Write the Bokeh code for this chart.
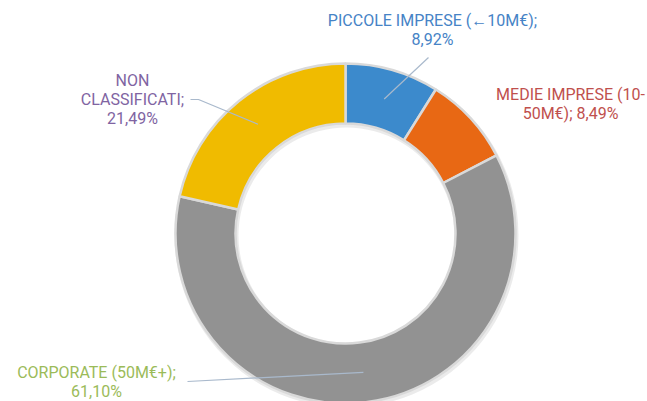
import math
from bokeh.plotting import figure
from bokeh.models import Range1d, ColumnDataSource
from bokeh.core.properties import value
from bokeh.embed import file_html
from bokeh.resources import INLINE

# ---- data ----
categories = ["PICCOLE IMPRESE (←10M€)", "MEDIE IMPRESE (10-50M€)",
              "CORPORATE (50M€+)", "NON CLASSIFICATI"]
shares = [8.92, 8.49, 61.10, 21.49]
share_labels = ["8,92%", "8,49%", "61,10%", "21,49%"]
colors = ["#3c8acc", "#e86814", "#929292", "#f0bb00"]
label_colors = ["#4683c6", "#c0504d", "#9bbb59", "#8064a2"]
label_lines = [["PICCOLE IMPRESE (←10M€);", "8,92%"],
               ["MEDIE IMPRESE (10-", "50M€); 8,49%"],
               ["CORPORATE (50M€+);", "61,10%"],
               ["NON", "CLASSIFICATI;", "21,49%"]]

# ---- layout (pixel-like coordinates; y measured upward from page bottom) ----
W, H = 647, 401
cx, cy = 345, H - 233
r_out, r_in = 170, 110
label_pos = [(432, H - 20), (570, H - 94), (96, H - 372), (132, H - 80)]
line_gap = 19
leader_start = [(428, H - 57), None, (187, H - 381), (190, H - 99)]
leader_knee = [None, None, None, (198, H - 99)]

p = figure(width=W, height=H, output_backend="svg", toolbar_location=None,
           x_range=Range1d(0, W), y_range=Range1d(0, H),
           min_border=0, outline_line_color=None)
p.axis.visible = False
p.grid.visible = False
p.background_fill_color = "white"

total = sum(shares)
starts, ends, mids = [], [], []
a = math.pi / 2
for s in shares:
    span = s / total * 2 * math.pi
    starts.append(a)
    ends.append(a - span)
    mids.append(a - span / 2)
    a -= span

src = ColumnDataSource(dict(start=starts, end=ends, color=colors))
# soft shadow
p.annular_wedge(x=cx + 1, y=cy - 2, inner_radius=r_in - 2, outer_radius=r_out + 2,
                start_angle=math.pi / 2, end_angle=math.pi / 2 - 2 * math.pi + 1e-6,
                direction="clock", fill_color="#000000", fill_alpha=0.08, line_color=None)
p.annular_wedge(x=cx, y=cy, inner_radius=r_in, outer_radius=r_out,
                start_angle="start", end_angle="end", direction="clock",
                fill_color="color", line_color="#d9d9d9", line_width=2.5, source=src)

# leader lines to the middle of each ring segment
r_mid = (r_in + r_out) / 2
for i, st in enumerate(leader_start):
    if st is None:
        continue
    ex = cx + r_mid * math.cos(mids[i])
    ey = cy + r_mid * math.sin(mids[i])
    xs = [st[0]]
    ys = [st[1]]
    if leader_knee[i] is not None:
        xs.append(leader_knee[i][0]); ys.append(leader_knee[i][1])
    xs.append(ex); ys.append(ey)
    p.line(xs, ys, line_color="#a9b9cc", line_width=1.2)

font = value("Roboto")
for i, lines in enumerate(label_lines):
    x0, y0 = label_pos[i]
    ys = [y0 - k * line_gap for k in range(len(lines))]
    p.text(x=[x0] * len(lines), y=ys, text=lines, text_font=font,
           text_font_size="16px", text_color=label_colors[i],
           text_align="center", text_baseline="middle")

open("out.html", "w").write(file_html(p, INLINE))
